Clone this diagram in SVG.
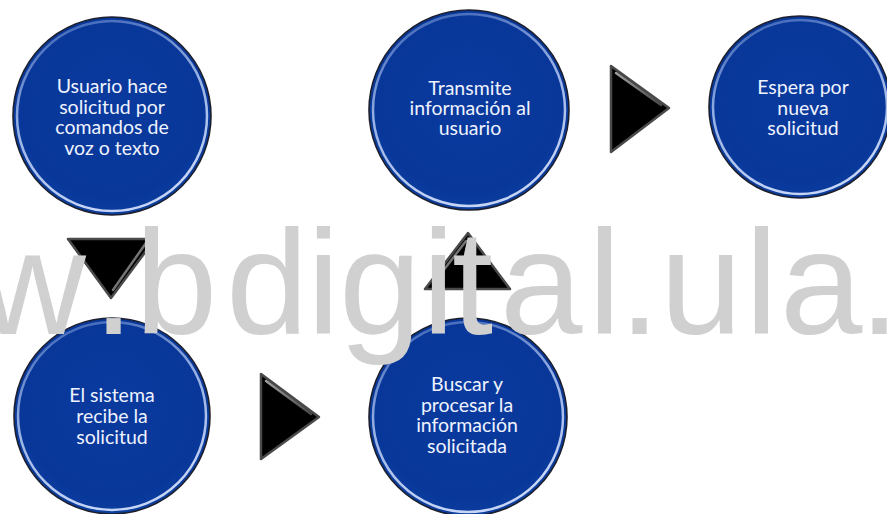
<svg xmlns="http://www.w3.org/2000/svg" width="887" height="514" viewBox="0 0 887 514">
<defs>
  <linearGradient id="ring" x1="0" y1="0" x2="0.3" y2="1">
    <stop offset="0" stop-color="#9fb8ea" stop-opacity="0.3"/>
    <stop offset="0.5" stop-color="#b9cdf5" stop-opacity="0.8"/>
    <stop offset="1" stop-color="#dbe6ff" stop-opacity="0.9"/>
  </linearGradient>
  <radialGradient id="fillg" cx="0.5" cy="0.45" r="0.55">
    <stop offset="0" stop-color="#0a3a9e"/>
    <stop offset="0.85" stop-color="#083799"/>
    <stop offset="1" stop-color="#0c3f9f"/>
  </radialGradient>
  <linearGradient id="triHi" x1="0" y1="0" x2="1" y2="1">
    <stop offset="0" stop-color="#bbbbbb"/>
    <stop offset="1" stop-color="#555555"/>
  </linearGradient>
</defs>
<style>
  .disc { fill: url(#fillg); stroke: #1c1f2e; stroke-width: 1.6; }
  .bevel { fill: none; stroke: url(#ring); stroke-width: 2.5; }
  .lbl { font-family: Lato, "Open Sans", "Liberation Sans", sans-serif; font-size: 19.5px; fill: #eef3ff; text-anchor: middle; }
  .tri { fill: #000; stroke: #4a4a4a; stroke-width: 2.5; stroke-linejoin: round; }
  .hi { fill: none; stroke: url(#triHi); stroke-width: 2.5; stroke-linecap: round; opacity: 0.85; }
  .wm { font-family: "Liberation Sans", Arial, sans-serif; font-size: 148px; fill: #d0d0d0; }
</style>
<rect width="887" height="514" fill="#ffffff"/>

<g id="connectors">
  <g id="arrow-down">
    <polygon class="tri" points="68,239 155,239 111,298"/>
    <line class="hi" x1="146" y1="243" x2="113" y2="290"/>
  </g>
  <g id="arrow-right-bottom">
    <polygon class="tri" points="261,374 261,459 319,417"/>
    <line class="hi" x1="266" y1="381" x2="311" y2="414"/>
  </g>
  <g id="arrow-up">
    <polygon class="tri" points="468,233 425,289 510,289"/>
    <line class="hi" x1="466" y1="241" x2="433" y2="284"/>
  </g>
  <g id="arrow-right-top">
    <polygon class="tri" points="611,66 611,152 669,108"/>
    <line class="hi" x1="616" y1="73" x2="661" y2="105"/>
  </g>
</g>

<g id="node-usuario">
  <circle class="disc" cx="112" cy="116" r="99"/>
  <circle class="bevel" cx="112" cy="116" r="95"/>
  <text class="lbl"><tspan x="112" y="93">Usuario hace</tspan><tspan x="112" y="113.5">solicitud por</tspan><tspan x="112" y="134">comandos de</tspan><tspan x="112" y="155">voz o texto</tspan></text>
</g>

<g id="node-transmite">
  <circle class="disc" cx="469" cy="110" r="100"/>
  <circle class="bevel" cx="469" cy="110" r="96"/>
  <text class="lbl"><tspan x="470" y="95">Transmite</tspan><tspan x="470" y="115">información al</tspan><tspan x="470" y="135">usuario</tspan></text>
</g>

<g id="node-espera">
  <circle class="disc" cx="800" cy="107" r="91"/>
  <circle class="bevel" cx="800" cy="107" r="87"/>
  <text class="lbl"><tspan x="803" y="94">Espera por</tspan><tspan x="803" y="114.5">nueva</tspan><tspan x="803" y="135">solicitud</tspan></text>
</g>

<g id="node-sistema">
  <circle class="disc" cx="112" cy="416" r="98"/>
  <circle class="bevel" cx="112" cy="416" r="94"/>
  <text class="lbl"><tspan x="112" y="402">El sistema</tspan><tspan x="112" y="423">recibe la</tspan><tspan x="112" y="444">solicitud</tspan></text>
</g>

<g id="node-buscar">
  <circle class="disc" cx="468" cy="417" r="99"/>
  <circle class="bevel" cx="468" cy="417" r="95"/>
  <text class="lbl"><tspan x="467" y="391">Buscar y</tspan><tspan x="467" y="411.5">procesar la</tspan><tspan x="467" y="432">información</tspan><tspan x="467" y="452.5">solicitada</tspan></text>
</g>

<g id="watermark">
  <text class="wm" y="334" x="-21 93 135 226 307 339 422 452 500 588 619 660 745 780 859">w.bdigital.ula.</text>
</g>
</svg>
